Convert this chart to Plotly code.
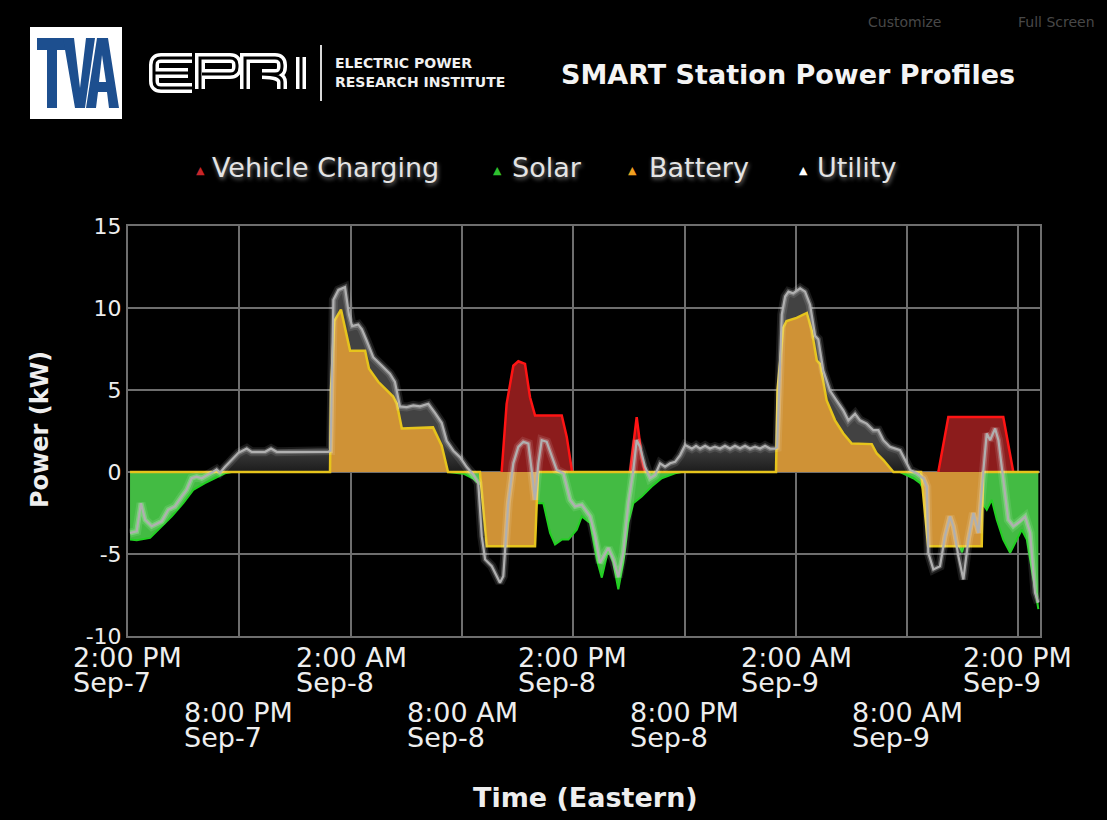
import pandas as pd
import plotly.graph_objects as go

# ---------------- data (hours after Sep-7 2:00 PM, kW) ----------------
START = pd.Timestamp("2014-09-07 14:00")

util_h = [0.11, 0.47, 0.70, 0.92, 1.28, 1.82, 2.17, 2.53, 2.89, 3.16, 3.43, 3.70, 3.97, 4.33, 4.60,
          4.78, 4.96, 5.23, 5.59, 5.95, 6.40, 6.67, 7.39, 7.71, 8.02, 10.80, 10.92, 11.07, 11.34,
          11.70, 11.91, 12.08, 12.41, 12.61, 12.87, 13.22, 13.58, 14.12, 14.39, 14.66, 15.02, 15.38,
          15.74, 16.19, 16.55, 16.91, 17.18, 17.54, 17.90, 18.26, 18.61, 18.88, 19.07, 19.25, 19.61,
          19.88, 20.05, 20.23, 20.50, 20.77, 21.04, 21.31, 21.58, 21.76, 21.94, 22.12, 22.30, 22.57,
          22.84, 23.11, 23.47, 23.83, 24.10, 24.46, 24.91, 25.18, 25.44, 25.71, 25.89, 26.16, 26.43,
          26.70, 26.97, 27.24, 27.42, 27.60, 27.87, 28.14, 28.41, 28.68, 28.95, 29.22, 29.49, 29.76,
          30.03, 30.39, 30.62, 30.84, 31.11, 31.37, 31.64, 31.91, 32.18, 32.45, 32.72, 32.99, 33.26,
          33.53, 33.80, 34.07, 34.34, 34.61, 34.88, 34.99, 35.24, 35.42, 35.60, 35.86, 36.23, 36.50,
          36.77, 37.04, 37.21, 37.48, 37.84, 38.20, 38.56, 38.83, 39.19, 39.46, 39.82, 40.18, 40.45,
          40.72, 41.08, 41.62, 41.89, 42.16, 42.52, 42.88, 43.06, 43.14, 43.41, 43.77, 44.04, 44.31,
          44.49, 44.76, 45.03, 45.30, 45.57, 45.84, 46.11, 46.29, 46.47, 46.74, 46.92, 47.18, 47.45,
          47.72, 48.09, 48.36, 48.63, 48.89, 49.07]
util_kw = [-3.72, -3.62, -1.90, -2.91, -3.31, -3.01, -2.30, -2.10, -1.50, -1.09, -0.38, -0.28, -0.38,
           -0.18, 0.02, 0.16, -0.04, 0.32, 0.73, 1.17, 1.43, 1.23, 1.23, 1.43, 1.23, 1.23, 1.30, 10.5,
           11.1, 11.27, 9.6, 8.9, 9.0, 8.7, 8.0, 7.0, 6.6, 6.0, 5.5, 4.0, 3.96, 4.06, 4.0, 4.16, 3.6,
           3.0, 1.9, 1.3, 0.9, 0.3, -0.15, -0.68, -3.92, -5.33, -5.74, -6.35, -6.75, -6.35, -1.9, 0.53,
           1.53, 1.84, 1.73, 0.12, -1.70, 0.53, 1.94, 1.84, 0.93, 0.12, -0.08, -1.7, -2.1, -2.0, -2.71,
           -3.92, -5.53, -4.93, -4.63, -5.33, -6.4, -4.93, -1.9, 0.12, 1.94, 1.53, 0.32, -0.38, -0.18,
           0.53, 0.32, 0.53, 0.62, 1.03, 1.64, 1.43, 1.6, 1.43, 1.6, 1.43, 1.55, 1.43, 1.6, 1.43, 1.6,
           1.45, 1.6, 1.43, 1.55, 1.43, 1.6, 1.43, 1.43, 1.5, 9.6, 10.7, 11.0, 10.9, 11.2, 11.0, 10.2,
           8.3, 8.1, 6.18, 4.97, 4.36, 3.76, 3.15, 3.56, 3.15, 2.95, 2.55, 2.55, 1.94, 1.53, 1.33, 0.73,
           0.12, -0.08, -0.4, -0.89, -4.93, -5.94, -5.74, -3.92, -2.71, -3.32, -5.13, -6.55, -4.12,
           -2.5, -3.72, 0.12, 2.35, 1.94, 2.65, 1.94, -0.48, -2.91, -3.31, -3.01, -2.71, -3.72, -7.35,
           -7.96]

# solar: three daylight segments (None = no generation)
solar_h = [0.11, 0.47, 1.19, 1.63, 2.36, 2.98, 3.52, 4.15, 4.69, 5.23, 5.59, None,
           17.25, 18.08, 18.61, 18.88, 20.05, 21.13, 22.12, 22.39, 22.75, 23.02, 23.38, 23.74, 24.19,
           24.46, 24.91, 25.27, 25.54, 25.89, 26.16, 26.43, 26.70, 26.97, 27.24, 27.69, 28.23, 28.77,
           29.49, 29.85, None,
           41.62, 42.33, 42.70, 42.97, 43.77, 44.58, 44.96, 45.28, 46.11, 46.29, 46.56, 46.83, 47.18,
           47.55, 47.91, 48.18, 48.45, 48.73, 49.07]
solar_kw = [-4.12, -4.16, -4.02, -3.52, -2.71, -1.90, -1.09, -0.68, -0.38, -0.08, 0.0, None,
            0.0, -0.1, -0.4, -0.7, -1.2, -1.6, -1.9, -1.9, -3.72, -4.42, -4.12, -4.12, -3.52,
            -2.71, -3.11, -5.33, -6.44, -4.73, -5.53, -7.15, -5.53, -3.11, -1.9, -1.5, -0.89, -0.38,
            -0.08, 0.0, None,
            0.0, -0.38, -0.68, -1.3, -2.5, -3.8, -4.9, -3.5, -2.0, -2.3, -1.7, -2.91, -4.12,
            -4.93, -4.12, -3.52, -4.12, -5.94, -8.36]

batt_h = [0.11, 10.89, 10.94, 11.12, 11.48, 11.97, 12.78, 12.99, 13.49, 13.95, 14.29, 14.49, 14.76,
          16.44, 16.91, 17.25, 18.97, 19.34, 21.94, 22.10, 34.93, 35.01, 35.32, 35.50, 36.04, 36.59,
          36.86, 37.13, 37.30, 37.66, 38.11, 38.56, 39.01, 40.09, 40.36, 40.72, 41.26, 42.75, 43.13,
          46.02, 46.09, 49.10]
batt_kw = [0.0, 0.0, 5.0, 9.2, 9.9, 7.4, 7.4, 6.3, 5.5, 4.97, 4.6, 4.16, 2.65, 2.72, 1.6, 0.0, 0.0,
           -4.53, -4.53, 0.0, 0.0, 5.0, 8.8, 9.2, 9.4, 9.7, 8.6, 6.79, 6.59, 4.36, 3.15, 2.35, 1.74,
           1.70, 1.13, 0.73, 0.0, 0.0, -4.53, -4.53, 0.0, 0.0]

# vehicle charging: three sessions (None = idle)
ev_h = [20.14, 20.41, 20.77, 21.04, 21.40, 21.67, 21.94, 23.38, 23.65, 23.94, None,
        27.06, 27.42, 27.69, 27.87, None,
        43.68, 44.22, 47.18, 47.72]
ev_kw = [0.0, 4.16, 6.48, 6.75, 6.59, 4.56, 3.45, 3.45, 2.14, 0.0, None,
         0.0, 3.35, 0.93, 0.0, None,
         0.0, 3.35, 3.35, 0.0]

tick_hours = [0, 6, 12, 18, 24, 30, 36, 42, 48]
tick_time_labels = ["2:00 PM", "8:00 PM", "2:00 AM", "8:00 AM", "2:00 PM", "8:00 PM", "2:00 AM",
                    "8:00 AM", "2:00 PM"]
tick_date_labels = ["Sep-7", "Sep-7", "Sep-8", "Sep-8", "Sep-8", "Sep-8", "Sep-9", "Sep-9", "Sep-9"]

y_tick_vals = [-10, -5, 0, 5, 10, 15]
y_tick_text = ["-10", "-5", "0", "5", "10", "15"]

series_names = ["Vehicle Charging", "Solar", "Battery", "Utility"]
legend_colors = ["#c8262b", "#2fc02f", "#f0a020", "#ffffff"]

# ---------------- helpers ----------------
def t(hours):
    return [None if h is None else START + pd.Timedelta(hours=h) for h in hours]

W, H = 1107, 820
ML, MR, MT, MB = 128, 67, 226, 184
PW, PH = W - ML - MR, H - MT - MB

def px(x):
    return (x - ML) / PW

def py(y):
    return (H - MB - y) / PH

FONT = "DejaVu Sans"
fig = go.Figure()

# utility fill (gradient, positive side only)
fig.add_trace(go.Scatter(
    x=t(util_h), y=util_kw, mode="lines", line=dict(width=0), fill="tozeroy",
    fillgradient=dict(type="vertical", start=-0.05, stop=1.6,
                      colorscale=[[0, "rgba(0,0,0,0)"], [0.04, "rgba(28,28,28,1)"],
                                  [1, "rgba(66,66,66,1)"]]),
    showlegend=False, hoverinfo="skip"))

# solar
fig.add_trace(go.Scatter(x=t(solar_h), y=solar_kw, mode="lines", name=series_names[1],
                         line=dict(color="#22d022", width=2), fill="tozeroy",
                         fillcolor="#43bb43", connectgaps=False, showlegend=False))
# vehicle charging
fig.add_trace(go.Scatter(x=t(ev_h), y=ev_kw, mode="lines", name=series_names[0],
                         line=dict(color="#ff1414", width=2.5), fill="tozeroy",
                         fillcolor="#8c1c1c", connectgaps=False, showlegend=False))
# battery
fig.add_trace(go.Scatter(x=t(batt_h), y=batt_kw, mode="lines", name=series_names[2],
                         line=dict(color="#e6c41c", width=2.5), fill="tozeroy",
                         fillcolor="#cf9236", showlegend=False))
# utility line with glow
fig.add_trace(go.Scatter(x=t(util_h), y=util_kw, mode="lines",
                         line=dict(color="rgba(255,255,255,0.10)", width=9),
                         showlegend=False, hoverinfo="skip"))
fig.add_trace(go.Scatter(x=t(util_h), y=util_kw, mode="lines",
                         line=dict(color="rgba(255,255,255,0.22)", width=5),
                         showlegend=False, hoverinfo="skip"))
fig.add_trace(go.Scatter(x=t(util_h), y=util_kw, mode="lines", name=series_names[3],
                         line=dict(color="#b0b0b0", width=2.2), showlegend=False))

# ---------------- decorations ----------------
shapes = []
annotations = []

def poly(points, color):
    d = "M" + " L".join(f"{px(a):.5f},{py(b):.5f}" for a, b in points) + " Z"
    return dict(type="path", xref="paper", yref="paper", path=d,
                fillcolor=color, line=dict(width=0), layer="above")

# TVA logo
shapes.append(dict(type="rect", xref="paper", yref="paper", x0=px(30), x1=px(122),
                   y0=py(119), y1=py(27), fillcolor="white", line=dict(width=0)))
blue = "#1d4f8f"
shapes.append(poly([(37, 38), (67, 38), (67, 50), (57, 50), (57, 108), (47, 108), (47, 50), (37, 50)], blue))
shapes.append(poly([(63, 38), (74, 38), (80, 88), (86, 38), (95, 38), (85, 108), (75, 108)], blue))
shapes.append(poly([(86, 108), (97, 38), (108, 38), (119, 108), (109, 108), (107, 92), (98, 92), (96, 108)], blue))
shapes.append(poly([(99, 82), (102, 55), (106, 82)], "white"))

# EPRI logo (double-stroke outline letters)
def spath(cmds):
    out = []
    for c in cmds:
        if c[0] in ("M", "L"):
            out.append(f"{c[0]}{px(c[1]):.5f},{py(c[2]):.5f}")
        elif c[0] == "Q":
            out.append(f"Q{px(c[1]):.5f},{py(c[2]):.5f} {px(c[3]):.5f},{py(c[4]):.5f}")
    return " ".join(out)

letters = [
    [("M", 192, 58), ("L", 161, 58), ("Q", 154, 58, 154, 65), ("L", 154, 81), ("Q", 154, 88, 161, 88), ("L", 192, 88),
     ("M", 154, 73), ("L", 188, 73)],
    [("M", 200, 89), ("L", 200, 58), ("L", 230, 58), ("Q", 237, 58, 237, 65), ("L", 237, 67), ("Q", 237, 74, 230, 74), ("L", 202, 74)],
    [("M", 245, 89), ("L", 245, 58), ("L", 275, 58), ("Q", 282, 58, 282, 65), ("L", 282, 67), ("Q", 282, 74, 275, 74),
     ("L", 262, 74), ("Q", 282, 74, 282, 82), ("L", 282, 89)],
    [("M", 301, 57), ("L", 301, 89)],
]
for L in letters:
    shapes.append(dict(type="path", xref="paper", yref="paper", path=spath(L),
                       line=dict(color="white", width=10), layer="above"))
for L in letters:
    shapes.append(dict(type="path", xref="paper", yref="paper", path=spath(L),
                       line=dict(color="black", width=3), layer="above"))
shapes.append(dict(type="line", xref="paper", yref="paper", x0=px(321), x1=px(321),
                   y0=py(45), y1=py(101), line=dict(color="#d8d8d8", width=2)))

def ann(text, x, y, size, color="#e8e8e8", bold=False, xanchor="center", yanchor="middle",
        shadow=None, **kw):
    f = dict(family=FONT, size=size, color=color)
    if shadow:
        f["shadow"] = shadow
    annotations.append(dict(text=f"<b>{text}</b>" if bold else text, x=px(x), y=py(y),
                            xref="paper", yref="paper", showarrow=False, xanchor=xanchor,
                            yanchor=yanchor, font=f, **kw))

ann("ELECTRIC POWER", 333, 63, 14, color="#f0f0f0", bold=True, xanchor="left")
ann("RESEARCH INSTITUTE", 333, 82, 14, color="#f0f0f0", bold=True, xanchor="left")
ann("SMART Station Power Profiles", 788, 75, 27, color="#f4f4f4", bold=True)
ann("Customize", 905, 22, 14, color="#484848")
ann("Full Screen", 1056, 22, 14, color="#484848")
ann("Time (Eastern)", 585, 797, 27, color="#eeeeee", bold=True)
ann("Power (kW)", 40, 430, 24, color="#eeeeee", bold=True, textangle=-90)

# legend (triangle marker + label per series)
legend_tri_x = [200, 497, 632, 803]
legend_txt_x = [210, 510, 647, 815]
for name, col, tx, lx in zip(series_names, legend_colors, legend_tri_x, legend_txt_x):
    ann("\u25B2", tx, 170, 11, color=col)
    ann(name, lx, 167, 27, color="#e4e4e4", xanchor="left", shadow="1px 2px 4px #777")

# x tick labels (two staggered rows)
for i, (hh, tl, dl) in enumerate(zip(tick_hours, tick_time_labels, tick_date_labels)):
    row_y = (657, 682) if i % 2 == 0 else (712, 737)
    xt = START + pd.Timedelta(hours=hh)
    for txt, yy in zip((tl, dl), row_y):
        annotations.append(dict(text=txt, x=xt, y=py(yy), xref="x", yref="paper",
                                showarrow=False, xanchor="left", xshift=-57, yanchor="middle",
                                font=dict(family=FONT, size=27, color="#eeeeee")))

grid = "#6e6e6e"
fig.update_layout(
    width=W, height=H, margin=dict(l=ML, r=MR, t=MT, b=MB),
    paper_bgcolor="black", plot_bgcolor="black",
    font=dict(family=FONT, color="#eeeeee"),
    showlegend=False,
    xaxis=dict(type="date", range=[START, START + pd.Timedelta(hours=49.16)],
               tick0=START, dtick=6 * 3600 * 1000, showticklabels=False, ticks="",
               showgrid=True, gridcolor=grid, gridwidth=2, zeroline=False,
               showline=True, linecolor=grid, linewidth=2, mirror=True),
    yaxis=dict(range=[-10, 15], tickmode="array", tickvals=y_tick_vals, ticktext=y_tick_text,
               ticks="", showgrid=True, gridcolor=grid, gridwidth=2, zeroline=False,
               showline=True, linecolor=grid, linewidth=2, mirror=True,
               tickfont=dict(family=FONT, size=22, color="#eeeeee"), ticklabelstandoff=0),
    shapes=shapes, annotations=annotations,
)

fig.write_html("out.html", config={"displayModeBar": False},
               post_script="document.body.style.margin='0px';")
